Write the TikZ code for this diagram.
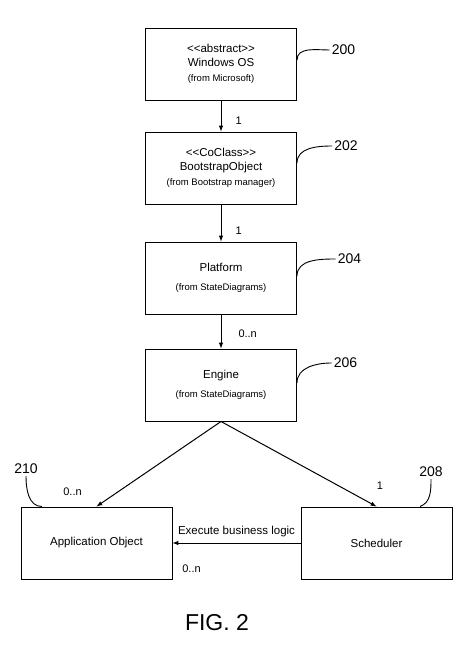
\documentclass[tikz,border=0pt]{standalone}
\usepackage{fontspec}
\setmainfont{Liberation Sans}
\usetikzlibrary{positioning}
\newcommand{\umlbox}[2]{#1\\[5pt]{\fontsize{9.5}{11}\selectfont #2}}
\newcommand{\umlstereo}[3]{<{}<#1>{}>\\#2\\[2pt]{\fontsize{9.5}{11}\selectfont #3}}

\begin{document}
\begin{tikzpicture}[
    x=1pt, y=-1pt,
    >=latex,
    every edge/.style={<-, draw, line width=1pt},
    klass/.style={draw,
                  line width=1pt,
                  align=center,
                  inner sep=0pt,
                  minimum width=151pt,
                  minimum height=72pt,
                  font=\fontsize{11.5}{13.5}\selectfont},
    refnum/.style={font=\fontsize{14}{16}\selectfont, inner sep=2pt},
    mult/.style={font=\fontsize{11}{13}\selectfont, inner sep=1pt},
    lead/.style={line width=0.9pt}]

    \useasboundingbox (0,0) rectangle (474,653);

    \node[klass] (b200) at (221,64) {\umlstereo{abstract}{Windows OS}{(from Microsoft)}};
    \node[klass, below=31pt of b200] (b202) {\umlstereo{CoClass}{BootstrapObject}{(from Bootstrap manager)}}
        edge node[mult, right=13pt, pos=0.35] {1} (b200);
    \node[klass, below=37pt of b202] (b204) {\umlbox{Platform}{(from StateDiagrams)}}
        edge node[mult, right=13pt, pos=0.3] {1} (b202);
    \node[klass, below=34pt of b204] (b206) {\umlbox{Engine}{(from StateDiagrams)}}
        edge node[mult, right=16pt, pos=0.44] {0..n} (b204);

    \node[klass] (app) at (96.5,543) {Application Object};
    \node[klass] (sched) at (376.5,543) {Scheduler}
        edge[->] node[mult, font=\fontsize{11.5}{13}\selectfont, midway, yshift=11pt] {Execute business logic}
             node[mult, at end, xshift=19pt, yshift=-26pt] {0..n} (app);

    \draw[->, line width=1pt] (b206.south) -- (app.north)
        node[mult, at end, xshift=-24pt, yshift=15pt] {0..n};
    \draw[->, line width=1pt] (b206.south) -- (sched.north)
        node[mult, at end, xshift=3.5pt, yshift=20.5pt] {1};

    % reference numbers
    \node[refnum] (n200) at (343.5,50) {200};
    \node[refnum] (n202) at (346,146) {202};
    \node[refnum] (n204) at (349.5,259) {204};
    \node[refnum] (n206) at (345.5,363) {206};
    \node[refnum] (n208) at (431,472) {208};
    \node[refnum] (n210) at (26,469) {210};

    \draw[lead] ([yshift=4pt]b200.east) to[out=90, in=180] (n200.west);
    \draw[lead] ([yshift=5pt]b202.east) to[out=90, in=180] (n202.west);
    \draw[lead] ([yshift=2pt]b204.east) to[out=90, in=180] (n204.west);
    \draw[lead] ([yshift=2pt]b206.east) to[out=90, in=180] (n206.west);
    \draw[lead] ([xshift=43.5pt]sched.north) to[out=20, in=-90] (n208.south);
    \draw[lead] (n210.south) to[out=-90, in=180] ([xshift=-54.5pt]app.north);

    \node[font=\fontsize{23}{26}\selectfont] (fig) at (217,623) {FIG. 2};

\end{tikzpicture}
\end{document}
